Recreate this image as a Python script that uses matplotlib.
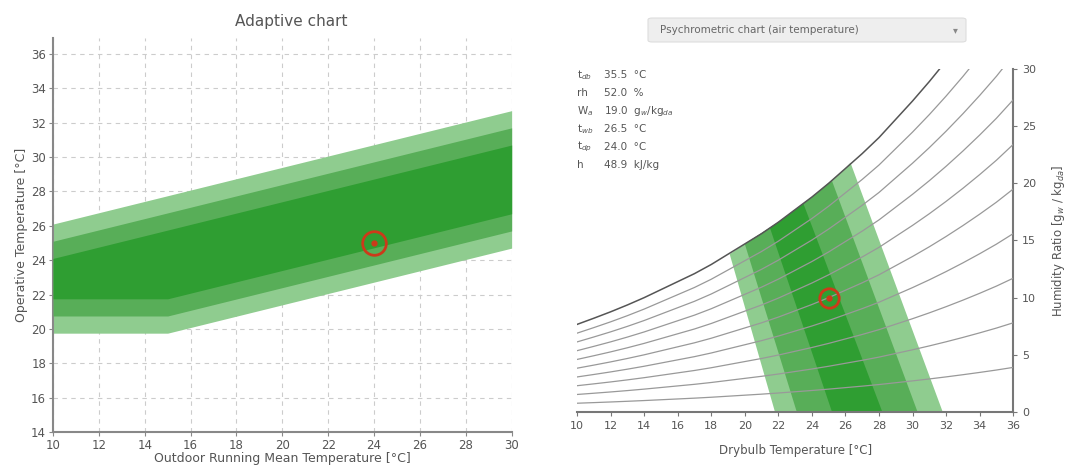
import matplotlib.pyplot as plt
from matplotlib.patches import FancyBboxPatch

# --- adaptive chart data (outdoor running mean temp -> operative temp) ---
t_out = [10, 15, 30]
upper_I = [24.1, 25.75, 30.7]
upper_II = [25.1, 26.75, 31.7]
upper_III = [26.1, 27.75, 32.7]
lower_I = [21.75, 21.75, 26.7]
lower_II = [20.75, 20.75, 25.7]
lower_III = [19.75, 19.75, 24.7]
adaptive_point = (24, 25)

# --- psychrometric chart data ---
t_db = [10, 11, 12, 13, 14, 15, 16, 17, 18, 19, 20, 21, 22, 23, 24, 25, 26,
        27, 28, 29, 30, 31, 32, 33, 34, 35, 36]
w_sat = [7.66, 8.20, 8.76, 9.36, 10.0, 10.7, 11.4, 12.1, 12.9, 13.8, 14.7, 15.6,
         16.6, 17.7, 18.8, 20.0, 21.3, 22.6, 24.0, 25.6, 27.2, 28.9, 30.7, 32.6,
         34.6, 36.7, 39.0]
rh_levels = [1.0, 0.9, 0.8, 0.7, 0.6, 0.5, 0.4, 0.3, 0.2, 0.1]

zone_outer = [(21.8, 0), (31.8, 0), (26.3, 21.8), (26, 21.3), (24, 18.8),
              (22, 16.6), (20, 14.7), (19.1, 13.8)]
zone_mid = [(23.1, 0), (30.3, 0), (25.2, 20.2), (24, 18.8), (22, 16.6),
            (20, 14.7)]
zone_inner = [(25.2, 0), (28.2, 0), (23.5, 18.2), (22, 16.6), (21.5, 16.1)]
psy_point = (25, 10)

info_labels = ["t$_{db}$", "rh", "W$_a$", "t$_{wb}$", "t$_{dp}$", "h"]
info_values = ["35.5  °C", "52.0  %", "19.0  g$_w$/kg$_{da}$", "26.5  °C",
               "24.0  °C", "48.9  kJ/kg"]

light = "#8fcc8f"
mid = "#58ae58"
dark = "#2f9e32"
red = "#cc3a1a"
txt = "#555555"

fig = plt.figure(figsize=(10.69, 4.67), dpi=100)

# ---------- left: adaptive chart ----------
ax1 = fig.add_axes([0.0496, 0.075, 0.429, 0.8426])
ax1.fill_between(t_out, lower_III, upper_III, color=light, lw=0, zorder=2)
ax1.fill_between(t_out, lower_II, upper_II, color=mid, lw=0, zorder=3)
ax1.fill_between(t_out, lower_I, upper_I, color=dark, lw=0, zorder=4)
ax1.plot(*adaptive_point, "o", ms=17, mfc="none", mec=red, mew=2, zorder=6)
ax1.plot(*adaptive_point, "o", ms=3.5, color=red, zorder=6)
ax1.set_xlim(10, 30)
ax1.set_ylim(14, 36.9)
ax1.set_xticks(range(10, 31, 2))
ax1.set_yticks(range(14, 37, 2))
ax1.grid(True, ls=(0, (4, 4)), color="#cccccc", lw=0.8, zorder=1)
ax1.set_axisbelow(True)
for s in ["top", "right"]:
    ax1.spines[s].set_visible(False)
for s in ["left", "bottom"]:
    ax1.spines[s].set_color("#888888")
    ax1.spines[s].set_linewidth(1.5)
ax1.tick_params(colors="#888888", labelcolor=txt, labelsize=8.5, length=3, pad=2)
ax1.set_xlabel("Outdoor Running Mean Temperature [°C]", color=txt, fontsize=9, labelpad=0)
ax1.set_ylabel("Operative Temperature [°C]", color=txt, fontsize=9, labelpad=2)
fig.text(0.272, 0.955, "Adaptive chart", ha="center", va="center", color=txt, fontsize=11)

# ---------- right: psychrometric chart ----------
ax2 = fig.add_axes([0.5398, 0.1178, 0.408, 0.7345])
for poly, c in [(zone_outer, light), (zone_mid, mid), (zone_inner, dark)]:
    xs = [p[0] for p in poly]
    ys = [p[1] for p in poly]
    ax2.fill(xs, ys, color=c, lw=0, zorder=2)
for rh in rh_levels:
    w = [rh * v for v in w_sat]
    if rh == 1.0:
        ax2.plot(t_db, w, color="#555555", lw=1.1, zorder=3)
    else:
        ax2.plot(t_db, w, color="#999999", lw=0.9, zorder=3)
ax2.plot(*psy_point, "o", ms=14, mfc="none", mec=red, mew=2, zorder=6)
ax2.plot(*psy_point, "o", ms=3.5, color=red, zorder=6)
ax2.set_xlim(10, 36)
ax2.set_ylim(0, 30)
ax2.set_xticks(range(10, 37, 2))
ax2.set_yticks(range(0, 31, 5))
ax2.yaxis.tick_right()
ax2.yaxis.set_label_position("right")
for s in ["top", "left"]:
    ax2.spines[s].set_visible(False)
for s in ["right", "bottom"]:
    ax2.spines[s].set_color("#777777")
    ax2.spines[s].set_linewidth(1.5)
ax2.tick_params(colors="#777777", labelcolor=txt, labelsize=8, length=3)
ax2.set_xlabel("Drybulb Temperature [°C]", color=txt, fontsize=8.5, labelpad=9)
ax2.set_ylabel("Humidity Ratio [g$_w$ / kg$_{da}$]", color=txt, fontsize=8.5,
               rotation=90, labelpad=10)

# info block
y0 = 1 - 75 / 467
for i, (lab, val) in enumerate(zip(info_labels, info_values)):
    y = y0 - i * 18 / 467
    fig.text(577 / 1069, y, lab, color=txt, fontsize=7.5, va="center")
    fig.text(604 / 1069, y, val, color=txt, fontsize=7.5, va="center")

# dropdown
box = FancyBboxPatch((648 / 1069, 1 - 42 / 467), 318 / 1069, 24 / 467,
                     boxstyle="round,pad=0,rounding_size=0.004",
                     transform=fig.transFigure, fc="#eeeeee", ec="#dddddd", lw=0.8)
fig.patches.append(box)
fig.text(660 / 1069, 1 - 30 / 467, "Psychrometric chart (air temperature)",
         color="#666666", fontsize=7.5, va="center")
fig.text(953 / 1069, 1 - 30 / 467, "▾", color="#888888", fontsize=7, va="center")

fig.savefig("out.png", dpi=100)
